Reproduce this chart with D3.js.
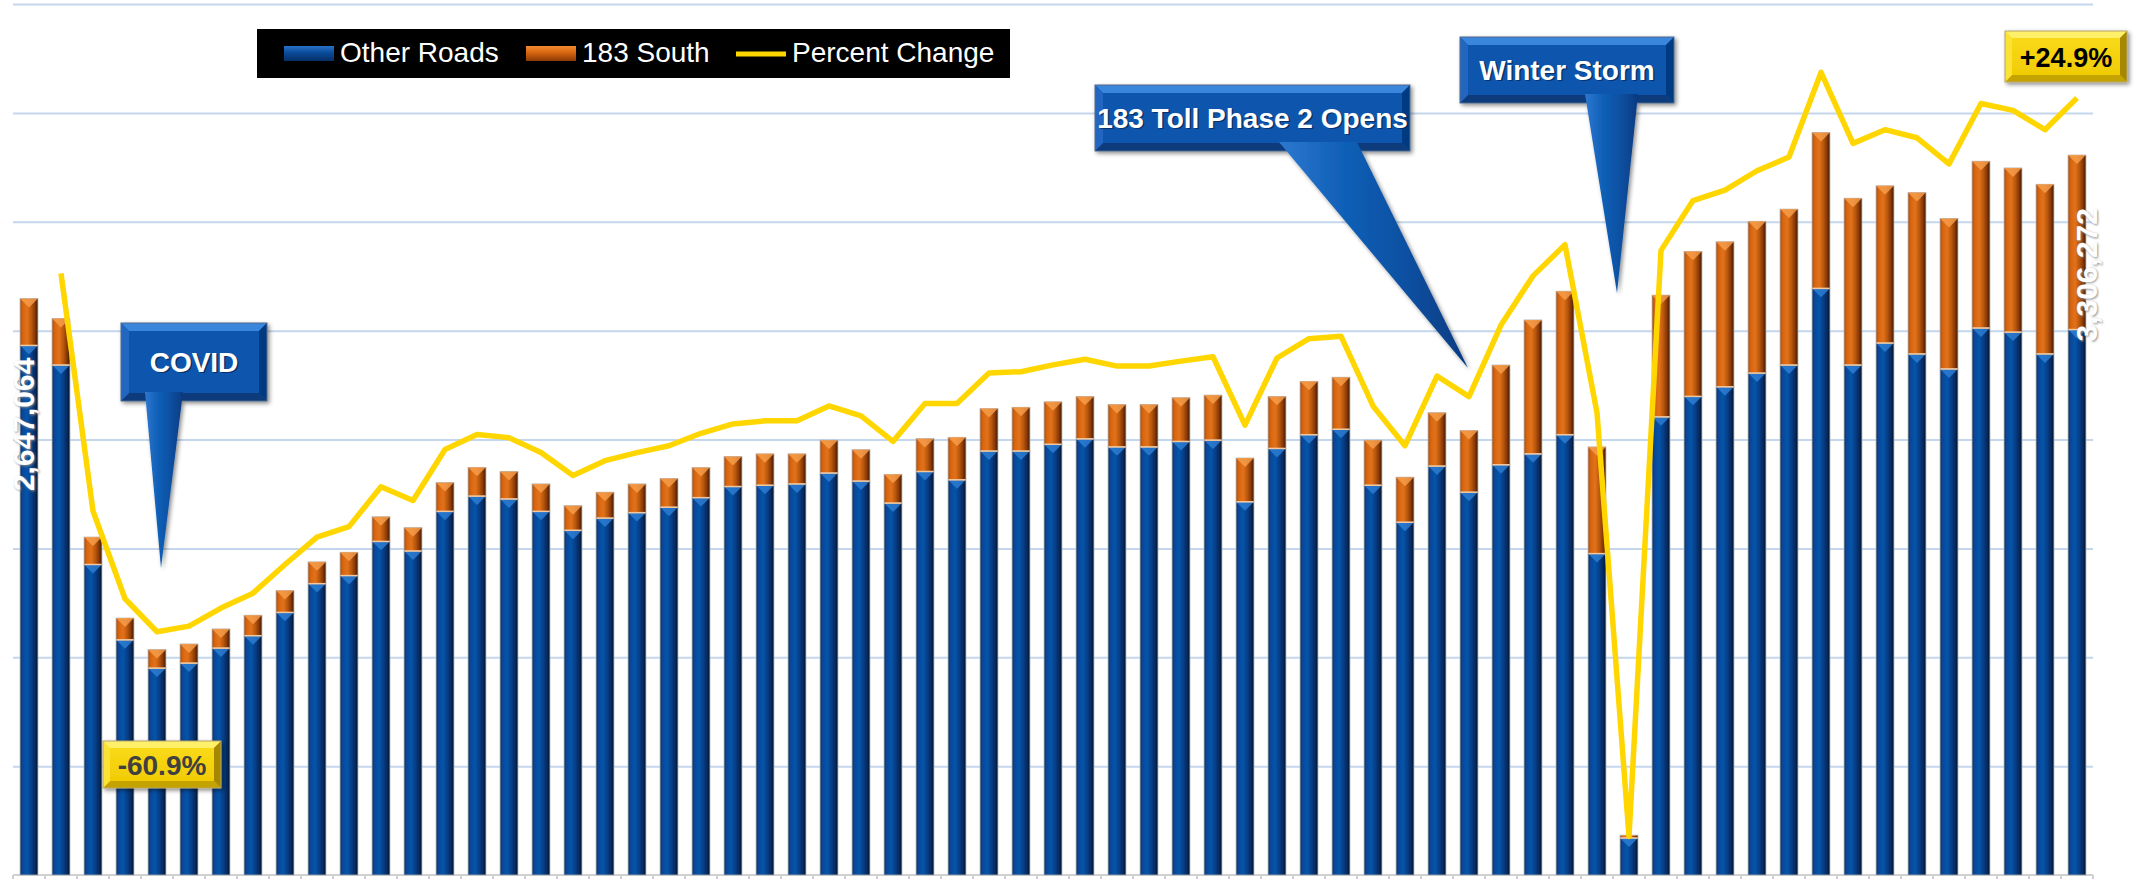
<html>
<head>
<meta charset="utf-8">
<script src="https://d3js.org/d3.v7.min.js"></script>
<style>
body {
	margin: 0;
	background: #fff;
}
svg {
	display: block;
	font-family: "Liberation Sans", Arial, sans-serif;
}
</style>
</head>
<body>

<div id="chart"></div>

<script>
	// 65 weekly periods (labels are not shown on the chart)
	var weeks = d3.range(1, 66).map(function(d) { return "Week " + d; });

	var otherRoads = [
		2432000, 2342000, 1426000, 1080000, 950000, 973000, 1042000, 1099000, 1206000, 1338000,
		1375000, 1532000, 1488000, 1670000, 1740000, 1727000, 1670000, 1583000, 1639000, 1664000,
		1689000, 1733000, 1784000, 1790000, 1796000, 1846000, 1809000, 1708000, 1853000, 1815000,
		1947000, 1947000, 1978000, 2003000, 1966000, 1966000, 1991000, 1997000, 1714000, 1959000,
		2022000, 2047000, 1790000, 1620000, 1878000, 1758000, 1884000, 1934000, 2022000, 1476000,
		170000, 2104000, 2198000, 2242000, 2305000, 2342000, 2694000, 2342000, 2443000, 2393000,
		2324000, 2512000, 2493000, 2393000, 2505000
	];

	var south183 = [
		215064, 214000, 126000, 100000, 85000, 88000, 88000, 94000, 100000, 100000,
		107000, 113000, 107000, 132000, 132000, 126000, 126000, 113000, 119000, 132000,
		132000, 138000, 138000, 144000, 138000, 151000, 144000, 132000, 151000, 195000,
		195000, 201000, 195000, 195000, 195000, 195000, 201000, 207000, 201000, 239000,
		245000, 239000, 207000, 207000, 245000, 283000, 458000, 615000, 659000, 490000,
		13000, 559000, 666000, 666000, 697000, 716000, 716000, 766000, 722000, 741000,
		691000, 766000, 754000, 779000, 801272
	];

	// percent change vs. the first week (no value for the first week)
	var pctChange = [
		null, -3.3, -41.5, -55.6, -60.9, -60.0, -57.1, -54.7, -50.1, -45.7,
		-44.0, -37.6, -39.8, -31.6, -29.2, -29.7, -32.1, -35.8, -33.4, -32.1,
		-31.0, -29.0, -27.5, -27.0, -27.0, -24.6, -26.2, -30.3, -24.2, -24.2,
		-19.3, -19.1, -18.0, -17.1, -18.2, -18.2, -17.4, -16.7, -27.7, -16.9,
		-13.8, -13.4, -24.6, -31.0, -19.8, -23.1, -11.6, -3.7, 1.3, -25.7,
		-93.8, 0.4, 8.4, 10.1, 13.2, 15.4, 29.0, 17.6, 19.8, 18.5,
		14.3, 24.0, 22.9, 19.8, 24.9
	];

	var seriesNames = ["Other Roads", "183 South", "Percent Change"];
	var gridTicks = [500000, 1000000, 1500000, 2000000, 2500000, 3000000, 3500000, 4000000];
	var volumeDomain = [0, 4000000];
	var pctDomain = [-100, 40];

	var width = 2144, height = 879;
	var plotLeft = 13, plotRight = 2093, plotBottom = 875, plotTop = 4;

	var svg = d3.select("#chart")
		.append("svg")
		.attr("width", width)
		.attr("height", height);

	var x = d3.scaleBand()
		.domain(weeks)
		.range([plotLeft, plotRight])
		.paddingInner(0.44)
		.paddingOuter(0.22);

	var y = d3.scaleLinear().domain(volumeDomain).range([plotBottom, plotTop]);
	var yPct = d3.scaleLinear().domain(pctDomain).range([plotBottom, plotTop]);
	var bw = x.bandwidth();
	function cx(i) { return x(weeks[i]) + bw / 2; }
	var fmtPct = function(v) { return d3.format("+.1f")(v).replace("\u2212", "-") + "%"; };

	// ---- defs: gradients + filters
	var defs = svg.append("defs");

	function grad(id, stops, vertical) {
		var g = defs.append("linearGradient").attr("id", id)
			.attr("x1", 0).attr("y1", 0)
			.attr("x2", vertical ? 0 : 1).attr("y2", vertical ? 1 : 0);
		stops.forEach(function(s) {
			g.append("stop").attr("offset", s[0]).attr("stop-color", s[1]);
		});
	}
	grad("gBlue", [[0, "#0b2c63"], [0.12, "#0a4592"], [0.38, "#0455ab"], [0.62, "#073f88"], [0.85, "#052a5e"], [1, "#021126"]]);
	grad("gOrange", [[0, "#a9480b"], [0.15, "#d7650f"], [0.4, "#e2731a"], [0.65, "#b8540b"], [0.85, "#7e3506"], [1, "#3f1903"]]);
	grad("gBlueV", [[0, "#2a72c8"], [0.45, "#0a4b9a"], [1, "#062f66"]], true);
	grad("gOrangeV", [[0, "#f38a33"], [0.45, "#d7650f"], [1, "#8a3a08"]], true);
	grad("gPointer", [[0, "#2e78cf"], [0.3, "#1262ba"], [0.7, "#0a4e9f"], [1, "#063a80"]]);
	grad("gYellow", [[0, "#fbdc1c"], [1, "#efc900"]], true);

	var shadow = defs.append("filter").attr("id", "shadow")
		.attr("x", "-10%").attr("y", "-10%").attr("width", "130%").attr("height", "130%");
	shadow.append("feDropShadow").attr("dx", 2).attr("dy", 2).attr("stdDeviation", 2)
		.attr("flood-color", "#000").attr("flood-opacity", 0.45);

	var blur = defs.append("filter").attr("id", "blur");
	blur.append("feGaussianBlur").attr("stdDeviation", 1);

	// ---- gridlines
	svg.append("g")
		.attr("class", "grid")
		.attr("transform", "translate(" + plotLeft + ",0)")
		.call(d3.axisLeft(y).tickValues(gridTicks).tickSize(-(plotRight - plotLeft)).tickFormat(""))
		.call(function(g) { g.select(".domain").remove(); })
		.selectAll("line")
		.attr("stroke", "#c3d6ec")
		.attr("stroke-width", 2);

	// ---- x axis (ticks between categories)
	var xAxis = svg.append("g")
		.attr("transform", "translate(" + (-x.step() / 2) + "," + plotBottom + ")")
		.call(d3.axisBottom(x).tickSizeInner(6).tickSizeOuter(0).tickFormat(""));
	xAxis.select(".domain").remove();
	xAxis.selectAll("line").attr("stroke", "#d0d0d0").attr("stroke-width", 2);
	svg.append("line")
		.attr("x1", plotRight).attr("x2", plotRight)
		.attr("y1", plotBottom).attr("y2", plotBottom + 6)
		.attr("stroke", "#d0d0d0").attr("stroke-width", 2);
	svg.append("line")
		.attr("x1", plotLeft).attr("x2", plotRight)
		.attr("y1", plotBottom).attr("y2", plotBottom)
		.attr("stroke", "#d0d0d0").attr("stroke-width", 2);

	// ---- stacked bars
	var rows = weeks.map(function(w, i) {
		return { week: w, other: otherRoads[i], south: south183[i] };
	});
	var stacked = d3.stack().keys(["other", "south"])(rows);
	var fills = { other: "url(#gBlue)", south: "url(#gOrange)" };
	var tops = { other: "#2f7fd6", south: "#f7a04e" };

	var layer = svg.selectAll("g.layer")
		.data(stacked)
		.enter().append("g")
		.attr("class", "layer");

	var seg = layer.selectAll("g.seg")
		.data(function(d) { return d.map(function(e) { e.key = d.key; return e; }); })
		.enter().append("g")
		.attr("class", "seg");

	seg.append("rect")
		.attr("x", function(d) { return x(d.data.week); })
		.attr("y", function(d) { return y(d[1]); })
		.attr("width", bw)
		.attr("height", function(d) { return y(d[0]) - y(d[1]); })
		.attr("fill", function(d) { return fills[d.key]; })
		.attr("stroke", "#b5b5b5")
		.attr("stroke-width", 0.8);

	seg.append("path")
		.attr("d", function(d) {
			var x0 = x(d.data.week), yt = y(d[1]);
			var h = Math.min(bw * 0.5, (y(d[0]) - yt) * 0.6);
			return "M" + x0 + "," + yt + "L" + (x0 + bw) + "," + yt + "L" + (x0 + bw / 2) + "," + (yt + h) + "Z";
		})
		.attr("fill", function(d) { return tops[d.key]; })
		.attr("opacity", 0.8);

	layer.filter(function(d) { return d.key === "south"; })
		.selectAll("g.seg")
		.append("line")
		.attr("x1", function(d) { return x(d.data.week) + 0.5; })
		.attr("x2", function(d) { return x(d.data.week) + bw - 0.5; })
		.attr("y1", function(d) { return y(d[0]); })
		.attr("y2", function(d) { return y(d[0]); })
		.attr("stroke", "#f4c89c")
		.attr("stroke-width", 1.5);

	// ---- percent change line
	var line = d3.line()
		.defined(function(d) { return d != null; })
		.x(function(d, i) { return cx(i); })
		.y(function(d) { return yPct(d); });

	svg.append("path")
		.datum(pctChange)
		.attr("d", line)
		.attr("fill", "none")
		.attr("stroke", "#ffd600")
		.attr("stroke-width", 5.5)
		.attr("stroke-linejoin", "round");

	// ---- total labels on first and last bars
	function totalLabel(i, dx, dy) {
		var total = otherRoads[i] + south183[i];
		var txt = d3.format(",")(total);
		var g = svg.append("g")
			.attr("transform", "translate(" + (cx(i) + dx) + "," + (y(total) + dy) + ") rotate(-90)");
		g.append("text")
			.attr("x", -1).attr("y", 1.5)
			.attr("text-anchor", "end")
			.attr("dominant-baseline", "central")
			.attr("font-size", 30).attr("font-weight", "bold")
			.attr("fill", "#8c8c8c")
			.attr("filter", "url(#blur)")
			.text(txt);
		g.append("text")
			.attr("text-anchor", "end")
			.attr("dominant-baseline", "central")
			.attr("font-size", 30).attr("font-weight", "bold")
			.attr("fill", "#fff")
			.text(txt);
	}
	totalLabel(0, -6, 59);
	totalLabel(weeks.length - 1, 9, 53);

	// ---- bevelled boxes
	function bevelBox(g, b, c, s) {
		var x0 = b.x, y0 = b.y, x1 = b.x + b.w, y1 = b.y + b.h;
		function poly(p) { return "M" + p.map(function(q) { return q.join(","); }).join("L") + "Z"; }
		g.append("rect").attr("x", x0).attr("y", y0).attr("width", b.w).attr("height", b.h)
			.attr("fill", c.face);
		g.append("path").attr("d", poly([[x0, y0], [x1, y0], [x1 - s, y0 + s], [x0 + s, y0 + s]])).attr("fill", c.top);
		g.append("path").attr("d", poly([[x0, y1], [x1, y1], [x1 - s, y1 - s], [x0 + s, y1 - s]])).attr("fill", c.bottom);
		g.append("path").attr("d", poly([[x0, y0], [x0 + s, y0 + s], [x0 + s, y1 - s], [x0, y1]])).attr("fill", c.left);
		g.append("path").attr("d", poly([[x1, y0], [x1 - s, y0 + s], [x1 - s, y1 - s], [x1, y1]])).attr("fill", c.right);
		g.append("rect").attr("x", x0).attr("y", y0).attr("width", b.w).attr("height", b.h)
			.attr("fill", "none").attr("stroke", c.stroke).attr("stroke-width", 1);
	}

	var blueBox = { face: "#0c55ad", top: "#3a86dd", left: "#2266c0", right: "#063a82", bottom: "#073a7c", stroke: "#50688c" };
	var goldBox = { face: "url(#gYellow)", top: "#fff06a", left: "#fbe334", right: "#a68700", bottom: "#c4a300", stroke: "#b7a46a" };

	function callout(i, tip, box, base, text) {
		var tx = cx(i) + tip[0], ty = tip[1];
		var g = svg.append("g").attr("filter", "url(#shadow)");
		var b = { x: tx + box[0], y: box[1], w: box[2], h: box[3] };
		bevelBox(g, b, blueBox, 8);
		var by = b.y + b.h - 9;
		g.append("path")
			.attr("d", "M" + (tx + base[0]) + "," + by + "L" + tx + "," + ty + "L" + (tx + base[1]) + "," + by + "Z")
			.attr("fill", "url(#gPointer)");
		var t = svg.append("g");
		[["#06224d", 1.5], ["#fff", 0]].forEach(function(s) {
			t.append("text")
				.attr("x", b.x + b.w / 2 + s[1]).attr("y", b.y + b.h / 2 + s[1])
				.attr("text-anchor", "middle").attr("dominant-baseline", "central")
				.attr("font-size", 28).attr("font-weight", "bold")
				.attr("fill", s[0])
				.attr("opacity", s[1] ? 0.7 : 1)
				.text(text);
		});
	}

	callout(4, [4, 568], [-40, 323, 146, 78], [-16, 22], "COVID");
	callout(45, [-1, 368], [-373, 85, 315, 66], [-189, -111], "183 Toll Phase 2 Opens");
	callout(50, [-12, 293], [-157, 37, 214, 66], [-32, 21], "Winter Storm");

	function pctLabel(i, box, color, size) {
		var g = svg.append("g").attr("filter", "url(#shadow)");
		var b = { x: cx(i) + box[0], y: box[1], w: box[2], h: box[3] };
		bevelBox(g, b, goldBox, 7);
		svg.append("text")
			.attr("x", b.x + b.w / 2).attr("y", b.y + b.h / 2 + 1)
			.attr("text-anchor", "middle").attr("dominant-baseline", "central")
			.attr("font-size", size).attr("font-weight", "bold")
			.attr("fill", color)
			.text(fmtPct(pctChange[i]));
	}
	pctLabel(4, [-54, 741, 118, 47], "#404040", 28);
	pctLabel(weeks.length - 1, [-72, 31, 122, 51], "#000", 27);

	// ---- legend
	var legend = svg.append("g");
	legend.append("rect")
		.attr("x", 257).attr("y", 29).attr("width", 753).attr("height", 49)
		.attr("fill", "#000");
	var legendX = [284, 526, 736];
	var legendFill = ["url(#gBlueV)", "url(#gOrangeV)", null];
	seriesNames.forEach(function(name, i) {
		if (legendFill[i]) {
			legend.append("rect")
				.attr("x", legendX[i]).attr("y", 46).attr("width", 50).attr("height", 15)
				.attr("fill", legendFill[i]);
		} else {
			legend.append("line")
				.attr("x1", legendX[i]).attr("x2", legendX[i] + 50)
				.attr("y1", 54).attr("y2", 54)
				.attr("stroke", "#ffd600").attr("stroke-width", 5);
		}
		legend.append("text")
			.attr("x", legendX[i] + 56).attr("y", 62)
			.attr("font-size", 28)
			.attr("fill", "#fff")
			.text(name);
	});
</script>

</body>
</html>
